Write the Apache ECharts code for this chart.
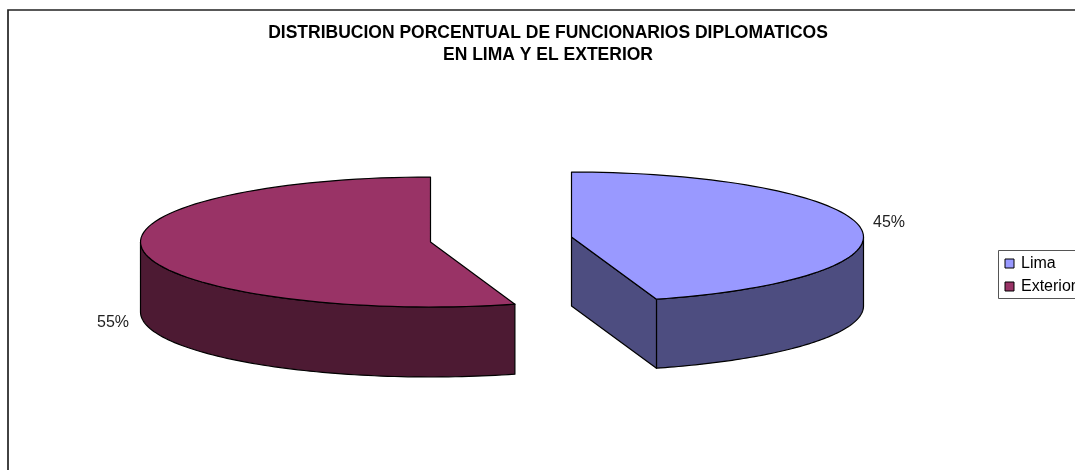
<!DOCTYPE html>
<html>
<head>
<meta charset="utf-8">
<style>html,body{margin:0;padding:0;background:#fff;overflow:hidden}#c{width:1075px;height:470px}</style>
<script src="https://cdn.jsdelivr.net/npm/echarts@6/dist/echarts.min.js"></script>
</head>
<body>
<div id="c"></div>
<script>
var titleLines = ['DISTRIBUCION PORCENTUAL DE FUNCIONARIOS DIPLOMATICOS', 'EN LIMA Y EL EXTERIOR'];
var categories = ['Lima', 'Exterior'];
var values = [45.3, 54.7];
var topColors = ['#9999ff', '#993366'];
var sideColors = ['#4d4d80', '#4d1a33'];

var total = values[0] + values[1];
var geometry = [
  {cx: 571.5, cy: 237, rx: 292, ry: 65, depth: 69, dir: 1, labelX: 889, labelY: 223},
  {cx: 430.5, cy: 242, rx: 290, ry: 65, depth: 70, dir: -1, labelX: 113, labelY: 323}
];

function ellipsePoint(g, deg, dy) {
  var a = deg * Math.PI / 180;
  return [g.cx + g.dir * g.rx * Math.sin(a), g.cy - g.ry * Math.cos(a) + (dy || 0)];
}
function arc(g, from, to, dy) {
  var pts = [], n = 80;
  for (var i = 0; i <= n; i++) pts.push(ellipsePoint(g, from + (to - from) * i / n, dy));
  return pts;
}
function renderSlice(idx) {
  return function (params, api) {
    var v = api.value(0);
    var sweep = v / total * 360;
    var g = geometry[idx];
    var lineStyle = {stroke: '#000', lineWidth: 1.2, lineJoin: 'round'};
    var children = [];
    function poly(points, fill) {
      children.push({type: 'polygon', shape: {points: points},
        style: Object.assign({fill: fill}, lineStyle)});
    }
    var rimTop = arc(g, 90, sweep, 0);
    var rimBottom = arc(g, sweep, 90, g.depth);
    poly(rimTop.concat(rimBottom), sideColors[idx]);
    if (idx === 0) {
      var c0 = [g.cx, g.cy], c1 = [g.cx, g.cy + g.depth];
      var e0 = ellipsePoint(g, sweep, 0), e1 = ellipsePoint(g, sweep, g.depth);
      poly([c0, e0, e1, c1], sideColors[idx]);
    }
    poly([[g.cx, g.cy]].concat(arc(g, 0, sweep, 0)), topColors[idx]);
    children.push({type: 'text', style: {
      x: g.labelX, y: g.labelY, text: Math.round(v / total * 100) + '%',
      fill: '#222', font: '16px "Liberation Sans", Arial, sans-serif',
      align: 'center', verticalAlign: 'middle'}});
    return {type: 'group', children: children};
  };
}

var chart = echarts.init(document.getElementById('c'), null, {renderer: 'canvas'});
chart.setOption({
  animation: false,
  backgroundColor: '#fff',
  title: {
    text: titleLines.join('\n'),
    left: 543, top: 17.5, textAlign: 'center',
    textStyle: {fontFamily: '"Liberation Sans", Arial, sans-serif', fontSize: 17.5, fontWeight: 'bold', color: '#000', lineHeight: 22}
  },
  legend: {
    orient: 'vertical', left: 998.5, top: 250.5, padding: [5, 30, 4, 6], itemGap: 7,
    itemWidth: 9, itemHeight: 9, borderColor: '#555', borderWidth: 1,
    data: categories.map(function (n, i) {
      return {name: n, icon: 'rect', itemStyle: {color: topColors[i], borderColor: '#000', borderWidth: 1}};
    }),
    textStyle: {fontFamily: '"Liberation Sans", Arial, sans-serif', fontSize: 16, color: '#000', height: 16, lineHeight: 16, padding: [0, 0, 0, 2]}
  },
  graphic: [{
    type: 'polyline', silent: true, z: -1,
    shape: {points: [[8, 470], [8, 10], [1075, 10]]},
    style: {stroke: '#222', lineWidth: 1.7, fill: null}
  }],
  series: categories.map(function (n, i) {
    return {
      type: 'custom', name: n, coordinateSystem: 'none',
      itemStyle: {color: topColors[i]},
      data: [[values[i]]],
      encode: {value: 0},
      renderItem: renderSlice(i)
    };
  })
});
</script>
</body>
</html>
